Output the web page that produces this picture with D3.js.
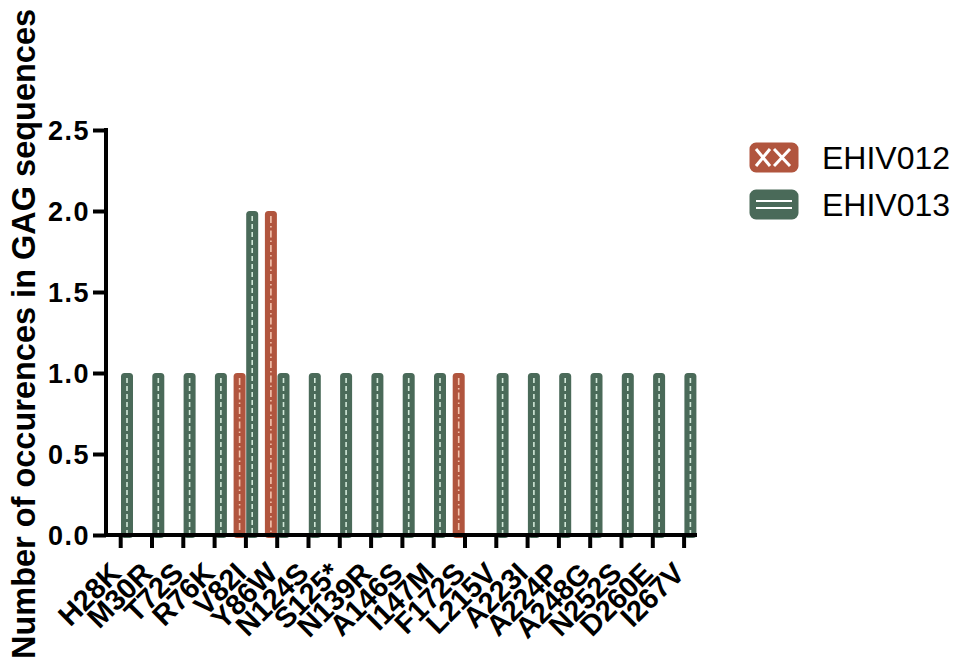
<!DOCTYPE html>
<html><head><meta charset="utf-8">
<script src="https://cdn.jsdelivr.net/npm/d3@7"></script>
<style>body{margin:0;background:#fff} svg{display:block}</style>
</head><body><svg id="c" width="954" height="668"></svg>
<script>
const categories = ["H28K","M30R","T72S","R76K","V82I","Y86W","N124S","S125*","N139R","A146S","I147M","F172S","L215V","A223I","A224P","A248G","N252S","D260E","I267V"];
const seriesNames = ["EHIV012","EHIV013"];
const ehiv012 = [0,0,0,0,1,2,0,0,0,0,0,1,0,0,0,0,0,0,0];
const ehiv013 = [1,1,1,1,2,1,1,1,1,1,1,0,1,1,1,1,1,1,1];
const yTicks = [0,0.5,1,1.5,2,2.5];
const yTitle = "Number of occurences in GAG sequences";

const colors = {EHIV012:"#b1553e", EHIV013:"#4a6a59"};
const lineColors = {EHIV012:"#f3c4ae", EHIV013:"#d2e8d9"};
const seriesValues = {EHIV012: ehiv012, EHIV013: ehiv013};

const svg = d3.select("#c");
const x = d3.scaleBand().domain(categories).range([105.05, 105.05 + 19*31.3]).padding(0);
const xs = d3.scaleBand().domain(seriesNames).range([-12.6, 12.6]).padding(0);
const y = d3.scaleLinear().domain([0, 2.5]).range([535, 130]);

const rows = [];
categories.forEach((c, i) => seriesNames.forEach(s => rows.push({c, s, v: seriesValues[s][i]})));
const bars = rows.filter(d => d.v > 0);

const g = svg.append("g");
g.selectAll("rect.bar").data(bars).join("rect")
  .attr("class","bar")
  .attr("x", d => x(d.c) + x.bandwidth()/2 + xs(d.s) + 0.3)
  .attr("width", xs.bandwidth() - 0.6)
  .attr("y", d => y(d.v))
  .attr("height", d => y(0) - y(d.v) + 3)
  .attr("rx", 3.5)
  .attr("fill", d => colors[d.s]);

g.selectAll("line.pat").data(bars).join("line")
  .attr("class","pat")
  .attr("x1", d => x(d.c) + x.bandwidth()/2 + xs(d.s) + xs.bandwidth()/2)
  .attr("x2", d => x(d.c) + x.bandwidth()/2 + xs(d.s) + xs.bandwidth()/2)
  .attr("y1", d => y(d.v) + 5)
  .attr("y2", y(0) - 2)
  .attr("stroke", d => lineColors[d.s])
  .attr("stroke-width", 1.6)
  .attr("stroke-dasharray", d => d.s === "EHIV013" ? "5,3" : "7,3,1.5,3");

// axes
const xAxis = svg.append("g").attr("transform", `translate(0,${y(0)})`)
  .call(d3.axisBottom(x).tickSize(13).tickSizeOuter(0).tickFormat(""));
xAxis.select(".domain").attr("stroke","#000").attr("stroke-width",4).attr("d", `M104,0H697`);
xAxis.selectAll(".tick line").attr("stroke","#000").attr("stroke-width",4);

svg.append("g").selectAll("text.xl").data(categories).join("text")
  .attr("class","xl")
  .attr("transform", d => `translate(${x(d) + x.bandwidth()/2 + 2},575) rotate(-45)`)
  .attr("text-anchor","end")
  .attr("font-family","Liberation Sans, Arial, sans-serif")
  .attr("font-weight","bold")
  .attr("font-size", 29)
  .attr("fill","#000")
  .text(d => d);

const yAxis = svg.append("g").attr("transform","translate(106,0)")
  .call(d3.axisLeft(y).tickValues(yTicks).tickSize(13).tickSizeOuter(0).tickFormat(d3.format(".1f")));
yAxis.select(".domain").attr("stroke","#000").attr("stroke-width",4).attr("d", `M0,${y(2.5)-2}V${y(0)+2}`);
yAxis.selectAll(".tick line").attr("stroke","#000").attr("stroke-width",4);
yAxis.selectAll(".tick text")
  .attr("x", -16).attr("dy","0.36em")
  .attr("font-family","Liberation Sans, Arial, sans-serif")
  .attr("font-weight","bold").attr("font-size",27)
  .attr("letter-spacing","1.5px")
  .attr("fill","#000");

svg.append("text")
  .attr("transform","translate(35,334) rotate(-90)")
  .attr("text-anchor","middle")
  .attr("font-family","Liberation Sans, Arial, sans-serif")
  .attr("font-weight","bold").attr("font-size",32.5)
  .attr("fill","#000")
  .text(yTitle);

// legend
const leg = svg.append("g").selectAll("g").data(seriesNames).join("g")
  .attr("transform", (d,i) => `translate(750,${143 + i*47})`);
leg.append("rect").attr("x",2).attr("y",2).attr("width",44).attr("height",25).attr("rx",4)
  .attr("fill","#fff").attr("stroke", d => colors[d]).attr("stroke-width",5);
leg.filter(d => d === "EHIV012").each(function(d){
  const s = d3.select(this);
  s.append("rect").attr("x",4).attr("y",4).attr("width",40).attr("height",21).attr("fill",colors[d]);
  [[6,6,20,23],[6,23,20,6],[24,6,40,23],[24,23,40,6]].forEach(l =>
    s.append("line").attr("x1",l[0]).attr("y1",l[1]).attr("x2",l[2]).attr("y2",l[3])
     .attr("stroke","#fff").attr("stroke-width",3));
});
leg.filter(d => d === "EHIV013").each(function(d){
  const s = d3.select(this);
  s.append("rect").attr("x",4).attr("y",4).attr("width",40).attr("height",21).attr("fill",colors[d]);
  [11,18].forEach(yy => s.append("line").attr("x1",6).attr("x2",42).attr("y1",yy).attr("y2",yy)
     .attr("stroke","#fff").attr("stroke-width",2.2));
});
leg.append("text").attr("x",72).attr("y",14.5).attr("dy","0.36em")
  .attr("font-family","Liberation Sans, Arial, sans-serif").attr("font-size",32)
  .attr("fill","#000").text(d => d);
</script></body></html>
